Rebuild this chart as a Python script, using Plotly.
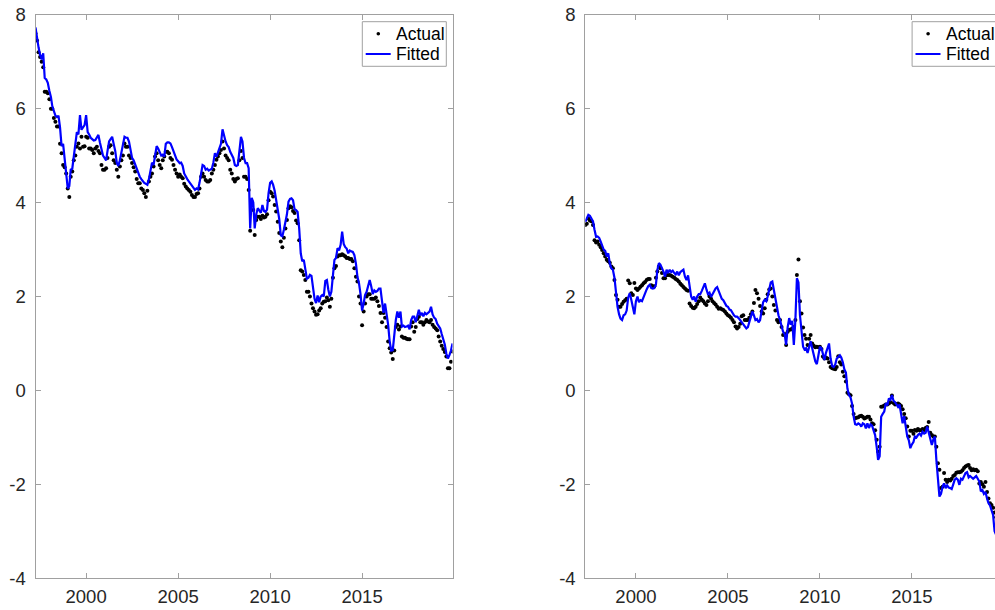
import pandas as pd
import plotly.graph_objects as go

# Monthly observations, April 1997 - December 2019
dates = pd.date_range("1997-04-01", periods=273, freq="MS")

left_fitted = [
    7.73, 7.50, 7.30, 7.15, 7.05, 7.18, 6.65, 6.62, 6.55, 6.38, 6.25, 6.05,
    5.95, 5.85, 5.82, 5.85, 5.60, 5.20, 5.25, 4.95, 4.60, 4.30, 4.35, 4.70,
    4.72, 4.95, 5.20, 5.50, 5.45, 5.86, 5.55, 5.60, 5.65, 5.86, 5.50, 5.45,
    5.38, 5.35, 5.32, 5.33, 5.40, 5.44, 5.28, 5.15, 5.00, 4.95, 4.90, 5.10,
    5.30, 5.35, 5.40, 5.25, 5.10, 4.85, 4.78, 4.90, 5.05, 5.20, 5.40, 5.38,
    5.38, 5.30, 5.10, 4.95, 4.90, 4.80, 4.72, 4.65, 4.55, 4.50, 4.45, 4.42,
    4.40, 4.38, 4.50, 4.70, 4.85, 4.80, 5.00, 5.20, 5.15, 5.05, 5.00, 5.02,
    4.98, 5.25, 5.28, 5.28, 5.26, 5.18, 5.08, 4.98, 4.92, 4.88, 4.84, 4.85,
    4.78, 4.62, 4.55, 4.50, 4.45, 4.40, 4.37, 4.32, 4.27, 4.30, 4.28, 4.42,
    4.62, 4.80, 4.78, 4.70, 4.72, 4.68, 4.70, 4.72, 4.85, 5.05, 4.98, 5.08,
    5.18, 5.25, 5.56, 5.40, 5.30, 5.22, 5.18, 5.08, 5.00, 4.95, 4.80, 4.78,
    4.80, 5.10, 5.40, 5.30, 4.95, 4.84, 4.84, 4.73, 3.45, 4.10, 4.00, 3.45,
    3.75, 3.88, 3.82, 3.78, 3.95, 3.82, 3.80, 3.85, 4.20, 4.42, 4.45, 4.38,
    4.25, 4.08, 3.85, 3.65, 3.30, 3.28, 3.42, 3.60, 3.75, 4.02, 4.08, 4.09,
    4.05, 3.86, 3.84, 3.80, 3.45, 2.92, 2.75, 2.78, 2.55, 2.38, 2.40, 2.46,
    2.44, 2.15, 1.95, 1.86, 2.02, 1.88, 2.00, 2.03, 2.00, 2.33, 2.35, 2.15,
    2.00, 2.10, 2.50, 2.78, 2.82, 3.03, 2.98, 3.10, 3.38, 3.12, 3.05, 3.02,
    2.92, 2.98, 2.96, 2.95, 2.88, 2.70, 2.42, 2.28, 2.05, 1.70, 1.85, 2.03,
    2.10, 2.20, 2.35, 2.22, 2.05, 2.13, 2.10, 2.12, 2.17, 2.17, 1.90, 1.65,
    1.85, 1.65, 1.40, 1.05, 0.85, 0.86, 1.20, 1.50, 1.68, 1.55, 1.68, 1.36,
    1.38, 1.35, 1.36, 1.38, 1.30, 1.50, 1.57, 1.57, 1.45, 1.62, 1.72, 1.60,
    1.65, 1.58, 1.65, 1.62, 1.65, 1.68, 1.78, 1.62, 1.55, 1.52, 1.42, 1.36,
    1.32, 1.20, 1.08, 0.98, 0.78, 0.68, 0.75, 0.85, 1.00,
]

left_actual = [
    7.60, 7.45, 7.20, 7.10, 7.00, 6.88, 6.36, 6.36, 6.33, 6.20, 6.00, 6.00,
    5.80, 5.72, 5.62, 5.62, 5.25, 5.05, 4.80, 4.75, 4.62, 4.30, 4.12, 4.55,
    4.66, 4.90, 5.00, 5.19, 5.26, 5.15, 5.40, 5.19, 5.20, 5.40, 5.38, 5.15,
    5.15, 5.12, 5.05, 5.15, 5.19, 5.10, 5.05, 4.80, 4.70, 4.70, 4.73, 4.95,
    5.19, 5.22, 5.05, 4.90, 4.84, 4.70, 4.55, 4.77, 4.90, 5.00, 5.26, 5.19,
    5.19, 5.00, 4.95, 4.84, 4.75, 4.66, 4.50, 4.41, 4.41, 4.30, 4.27, 4.20,
    4.12, 4.25, 4.45, 4.55, 4.62, 4.77, 4.98, 5.05, 4.90, 4.80, 4.73, 4.90,
    4.98, 5.08, 5.08, 5.05, 4.95, 4.91, 4.80, 4.70, 4.62, 4.55, 4.60, 4.55,
    4.52, 4.40, 4.34, 4.30, 4.27, 4.23, 4.16, 4.12, 4.12, 4.18, 4.20, 4.30,
    4.55, 4.62, 4.55, 4.48, 4.45, 4.45, 4.48, 4.62, 4.70, 4.80, 4.91, 4.98,
    5.05, 5.12, 5.30, 5.15, 5.00, 4.95, 4.90, 4.70, 4.62, 4.50, 4.45, 4.50,
    4.52, 4.90, 5.10, 4.95, 4.55, 4.55, 4.50, 4.27, 3.40, 4.02, 3.84, 3.31,
    3.63, 3.70, 3.70, 3.65, 3.72, 3.68, 3.70, 3.75, 4.05, 4.23, 4.20, 4.13,
    3.95, 3.81, 3.59, 3.35, 3.17, 3.05, 3.25, 3.45, 3.63, 3.88, 3.92, 3.90,
    3.82, 3.78, 3.62, 3.56, 3.20, 2.56, 2.53, 2.46, 2.35, 2.10, 2.10, 2.00,
    1.85, 1.75, 1.68, 1.61, 1.62, 1.70, 1.75, 1.85, 1.89, 1.90, 1.98, 1.92,
    1.78, 1.95, 2.40, 2.60, 2.65, 2.85, 2.88, 2.88, 2.90, 2.88, 2.85, 2.82,
    2.82, 2.80, 2.80, 2.75, 2.60, 2.42, 2.32, 2.00, 1.85, 1.39, 1.68, 1.85,
    2.00, 2.05, 2.05, 1.95, 1.95, 1.95, 1.98, 1.90, 1.80, 1.65, 1.45, 1.65,
    1.55, 1.35, 1.04, 0.90, 0.81, 0.67, 0.85, 1.35, 1.40, 1.30, 1.36, 1.15,
    1.12, 1.12, 1.10, 1.09, 1.09, 1.36, 1.45, 1.25, 1.35, 1.52, 1.57, 1.45,
    1.45, 1.40, 1.45, 1.50, 1.47, 1.45, 1.50, 1.40, 1.35, 1.32, 1.28, 1.15,
    1.04, 0.95, 0.88, 0.82, 0.72, 0.47, 0.47, 0.61, 0.83,
]

right_fitted = [
    3.59, 3.68, 3.74, 3.72, 3.66, 3.60, 3.42, 3.27, 3.28, 3.25, 3.17, 3.08,
    3.00, 2.97, 2.85, 2.92, 2.70, 2.60, 2.57, 2.40, 2.05, 1.78, 1.62, 1.53,
    1.50, 1.60, 1.62, 1.70, 1.98, 2.07, 1.93, 1.78, 1.62, 1.90, 2.00, 1.88,
    1.92, 1.90, 2.00, 2.10, 2.15, 2.22, 2.25, 2.18, 2.17, 2.18, 2.25, 2.56,
    2.71, 2.68, 2.62, 2.53, 2.42, 2.57, 2.50, 2.57, 2.52, 2.55, 2.50, 2.47,
    2.53, 2.45, 2.52, 2.55, 2.57, 2.42, 2.35, 2.45, 2.21, 2.00, 1.93, 2.00,
    1.89, 2.00, 2.05, 2.05, 2.12, 2.20, 2.28, 2.15, 2.05, 2.08, 1.99, 2.05,
    2.12, 2.17, 2.20, 2.12, 2.00, 1.95, 1.92, 1.87, 1.80, 1.78, 1.72, 1.71,
    1.65, 1.60, 1.57, 1.57, 1.54, 1.50, 1.45, 1.40, 1.36, 1.32, 1.35, 1.45,
    1.52, 1.68, 1.60, 1.50, 1.52, 1.45, 1.50, 1.70, 1.88, 1.93, 1.90, 2.00,
    2.15, 2.30, 2.32, 2.15, 1.98, 1.75, 1.60, 1.50, 1.36, 1.25, 1.20, 0.97,
    1.35, 1.54, 1.40, 1.48, 0.97, 1.50, 2.39, 2.30, 1.60, 1.25, 0.93, 0.87,
    0.90, 0.80, 0.93, 1.05, 0.90, 0.75, 0.62, 0.56, 0.75, 0.93, 0.90, 0.75,
    0.65, 0.80, 0.92, 1.00, 0.68, 0.52, 0.50, 0.55, 0.68, 0.72, 0.75, 0.70,
    0.60, 0.45, 0.38, 0.04, -0.10, -0.15, -0.28, -0.55, -0.72, -0.73, -0.70, -0.72,
    -0.77, -0.70, -0.72, -0.81, -0.70, -0.80, -0.72, -0.75, -0.88, -0.95, -1.20, -1.48,
    -1.40, -0.56, -0.50, -0.45, -0.27, -0.32, -0.17, -0.20, -0.10, -0.22, -0.25, -0.30,
    -0.35, -0.30, -0.48, -0.70, -0.55, -0.75, -0.98, -1.06, -1.23, -1.15, -1.10, -0.98,
    -1.00, -0.95, -0.92, -0.96, -0.88, -0.92, -0.90, -0.77, -0.92, -1.05, -1.16, -1.05,
    -0.98, -1.48, -1.91, -2.26, -2.20, -2.05, -1.98, -2.08, -2.02, -2.07, -2.08, -2.10,
    -2.00, -1.90, -1.87, -1.90, -2.01, -1.88, -1.90, -1.83, -1.76, -1.74, -1.85, -1.82,
    -1.85, -1.88, -1.85, -1.82, -1.88, -1.94, -2.15, -2.12, -2.20, -2.16, -2.30, -2.40,
    -2.45, -2.55, -2.65, -3.00, -3.10, -3.15, -3.20, -3.25, -3.30,
]

right_actual = [
    3.52, 3.55, 3.66, 3.62, 3.60, 3.52, 3.20, 3.15, 3.17, 3.10, 3.05, 2.99,
    2.92, 2.85, 2.78, 2.75, 2.72, 2.64, 2.60, 2.35, 2.03, 1.93, 1.78, 1.78,
    1.84, 1.89, 1.92, 1.95, 2.34, 2.28, 2.07, 2.03, 2.29, 2.17, 2.14, 2.17,
    2.21, 2.24, 2.28, 2.31, 2.35, 2.37, 2.37, 2.24, 2.22, 2.22, 2.40, 2.53,
    2.64, 2.60, 2.50, 2.39, 2.39, 2.45, 2.46, 2.46, 2.44, 2.42, 2.40, 2.37,
    2.35, 2.32, 2.27, 2.24, 2.20, 2.17, 2.14, 2.12, 1.85, 1.80, 1.76, 1.75,
    1.78, 1.84, 1.90, 1.98, 1.93, 1.90, 1.85, 1.82, 1.90, 2.00, 1.95, 1.90,
    1.86, 1.83, 1.78, 1.74, 1.75, 1.73, 1.71, 1.68, 1.64, 1.60, 1.58, 1.55,
    1.50, 1.45, 1.36, 1.32, 1.35, 1.42, 1.58, 1.60, 1.50, 1.50, 1.50, 1.55,
    1.62, 1.68, 1.86, 2.14, 2.07, 1.95, 1.80, 1.68, 1.64, 1.75, 1.93, 2.05,
    2.15, 2.17, 2.00, 1.82, 1.70, 1.50, 1.45, 1.50, 1.35, 1.18, 1.20, 0.97,
    1.25, 1.29, 1.30, 1.32, 1.35, 1.50, 2.46, 2.79, 1.90, 1.64, 1.34, 1.18,
    1.10, 0.97, 1.10, 1.18, 1.00, 0.95, 0.92, 0.93, 0.92, 0.93, 0.88, 0.72,
    0.68, 0.70, 0.68, 0.60, 0.50, 0.47, 0.46, 0.45, 0.50, 0.73, 0.60, 0.55,
    0.40, 0.30, 0.19, -0.05, -0.08, -0.10, -0.33, -0.50, -0.59, -0.58, -0.57, -0.55,
    -0.54, -0.56, -0.60, -0.58, -0.56, -0.56, -0.62, -0.70, -0.72, -0.85, -1.05, -1.30,
    -1.20, -0.35, -0.34, -0.32, -0.30, -0.30, -0.28, -0.25, -0.11, -0.27, -0.30, -0.29,
    -0.28, -0.30, -0.33, -0.40, -0.50, -0.59, -0.77, -0.98, -0.86, -0.86, -0.92, -0.84,
    -0.86, -0.82, -0.85, -0.85, -0.82, -0.84, -0.80, -0.78, -0.67, -0.90, -0.95, -0.98,
    -0.98, -1.20, -1.55, -1.69, -2.08, -2.05, -1.76, -1.90, -1.95, -1.90, -1.92, -1.88,
    -1.82, -1.80, -1.75, -1.74, -1.74, -1.73, -1.70, -1.65, -1.62, -1.60, -1.59, -1.65,
    -1.70, -1.68, -1.70, -1.69, -1.72, -1.98, -1.95, -2.00, -2.05, -1.95, -2.16, -2.30,
    -2.40, -2.44, -2.50, -2.60, -2.70, -2.80, -2.90, -3.00, -3.10,
]

year_ticks = ["2000-01-01", "2005-01-01", "2010-01-01", "2015-01-01"]
year_labels = ["2000", "2005", "2010", "2015"]
value_ticks = [-4, -2, 0, 2, 4, 6, 8]
value_labels = ["-4", "-2", "0", "2", "4", "6", "8"]

W, H = 995, 610
AX_COLOR = "#a0a0a0"
TXT_COLOR = "#262626"
FONT = "Liberation Sans, Arial, Helvetica, sans-serif"

# axes placement in pixels
left_px = (35.5, 452.5)
right_px = (585.3, 1002.3)   # the second panel runs past the page edge
top_px, bottom_px = 14.7, 578.3

dom_left = [left_px[0] / W, left_px[1] / W]
dom_right = [right_px[0] / W, 1.0]
dom_y = [1 - bottom_px / H, 1 - top_px / H]

start, end = dates[0], dates[-1]
span = end - start
visible = (W - right_px[0]) / (right_px[1] - right_px[0])
right_end = start + span * visible

fig = go.Figure()

for xa, ya, actual, fitted in [("x", "y", left_actual, left_fitted),
                               ("x2", "y2", right_actual, right_fitted)]:
    fig.add_trace(go.Scatter(x=dates, y=actual, mode="markers", xaxis=xa, yaxis=ya,
                             marker=dict(color="black", size=4), name="Actual",
                             showlegend=False))
    fig.add_trace(go.Scatter(x=dates, y=fitted, mode="lines", xaxis=xa, yaxis=ya,
                             line=dict(color="#0000ff", width=2.2), name="Fitted",
                             showlegend=False))

xcommon = dict(type="date", tickvals=year_ticks, ticktext=year_labels,
               ticks="inside", ticklen=5, tickwidth=1, tickcolor=AX_COLOR,
               showline=True, linecolor=AX_COLOR, linewidth=1, mirror="ticks",
               showgrid=False, zeroline=False, automargin=False,
               tickfont=dict(family=FONT, size=18.5, color=TXT_COLOR),
               ticklabelstandoff=1)
ycommon = dict(range=[-4, 8], tickvals=value_ticks, ticktext=value_labels,
               ticks="inside", ticklen=5, tickwidth=1, tickcolor=AX_COLOR,
               showline=True, linecolor=AX_COLOR, linewidth=1,
               showgrid=False, zeroline=False, automargin=False,
               tickfont=dict(family=FONT, size=18.5, color=TXT_COLOR),
               ticklabelstandoff=5)

fig.update_layout(
    width=W, height=H,
    margin=dict(l=0, r=0, t=0, b=0, pad=0),
    paper_bgcolor="white", plot_bgcolor="white",
    showlegend=False,
    xaxis=dict(domain=dom_left, range=[start, end], anchor="y", **xcommon),
    yaxis=dict(domain=dom_y, anchor="x", mirror="ticks", **ycommon),
    xaxis2=dict(domain=dom_right, range=[start, right_end], anchor="y2", **xcommon),
    yaxis2=dict(domain=dom_y, anchor="x2", mirror=False, **ycommon),
)

# legend boxes drawn in page pixels
shapes, annots = [], []


def px_x(v):
    return v / W


def px_y(v):
    return 1 - v / H


for ax_left in (left_px[0], right_px[0]):
    off = ax_left - left_px[0]
    bx0, bx1 = 362.3 + off, 446.3 + off
    by0, by1 = 21.7, 66.3
    row1, row2 = 33.7, 54.0
    shapes.append(dict(type="rect", xref="paper", yref="paper",
                       x0=px_x(bx0), x1=px_x(bx1), y0=px_y(by1), y1=px_y(by0),
                       line=dict(color=AX_COLOR, width=1), fillcolor="white",
                       layer="above"))
    shapes.append(dict(type="circle", xref="paper", yref="paper",
                       x0=px_x(bx0 + 14.2), x1=px_x(bx0 + 17.8),
                       y0=px_y(row1 + 1.8), y1=px_y(row1 - 1.8),
                       line=dict(color="black", width=0), fillcolor="black",
                       layer="above"))
    shapes.append(dict(type="line", xref="paper", yref="paper",
                       x0=px_x(bx0 + 3.4), x1=px_x(bx0 + 28.4),
                       y0=px_y(row2), y1=px_y(row2),
                       line=dict(color="#0000ff", width=2), layer="above"))
    for label, row in (("Actual", row1), ("Fitted", row2)):
        annots.append(dict(text=label, xref="paper", yref="paper",
                           x=px_x(bx0 + 31.7), y=px_y(row),
                           xanchor="left", yanchor="middle", showarrow=False,
                           font=dict(family=FONT, size=17.5, color="black")))

fig.update_layout(shapes=shapes, annotations=annots)

fig.write_html("out.html")
